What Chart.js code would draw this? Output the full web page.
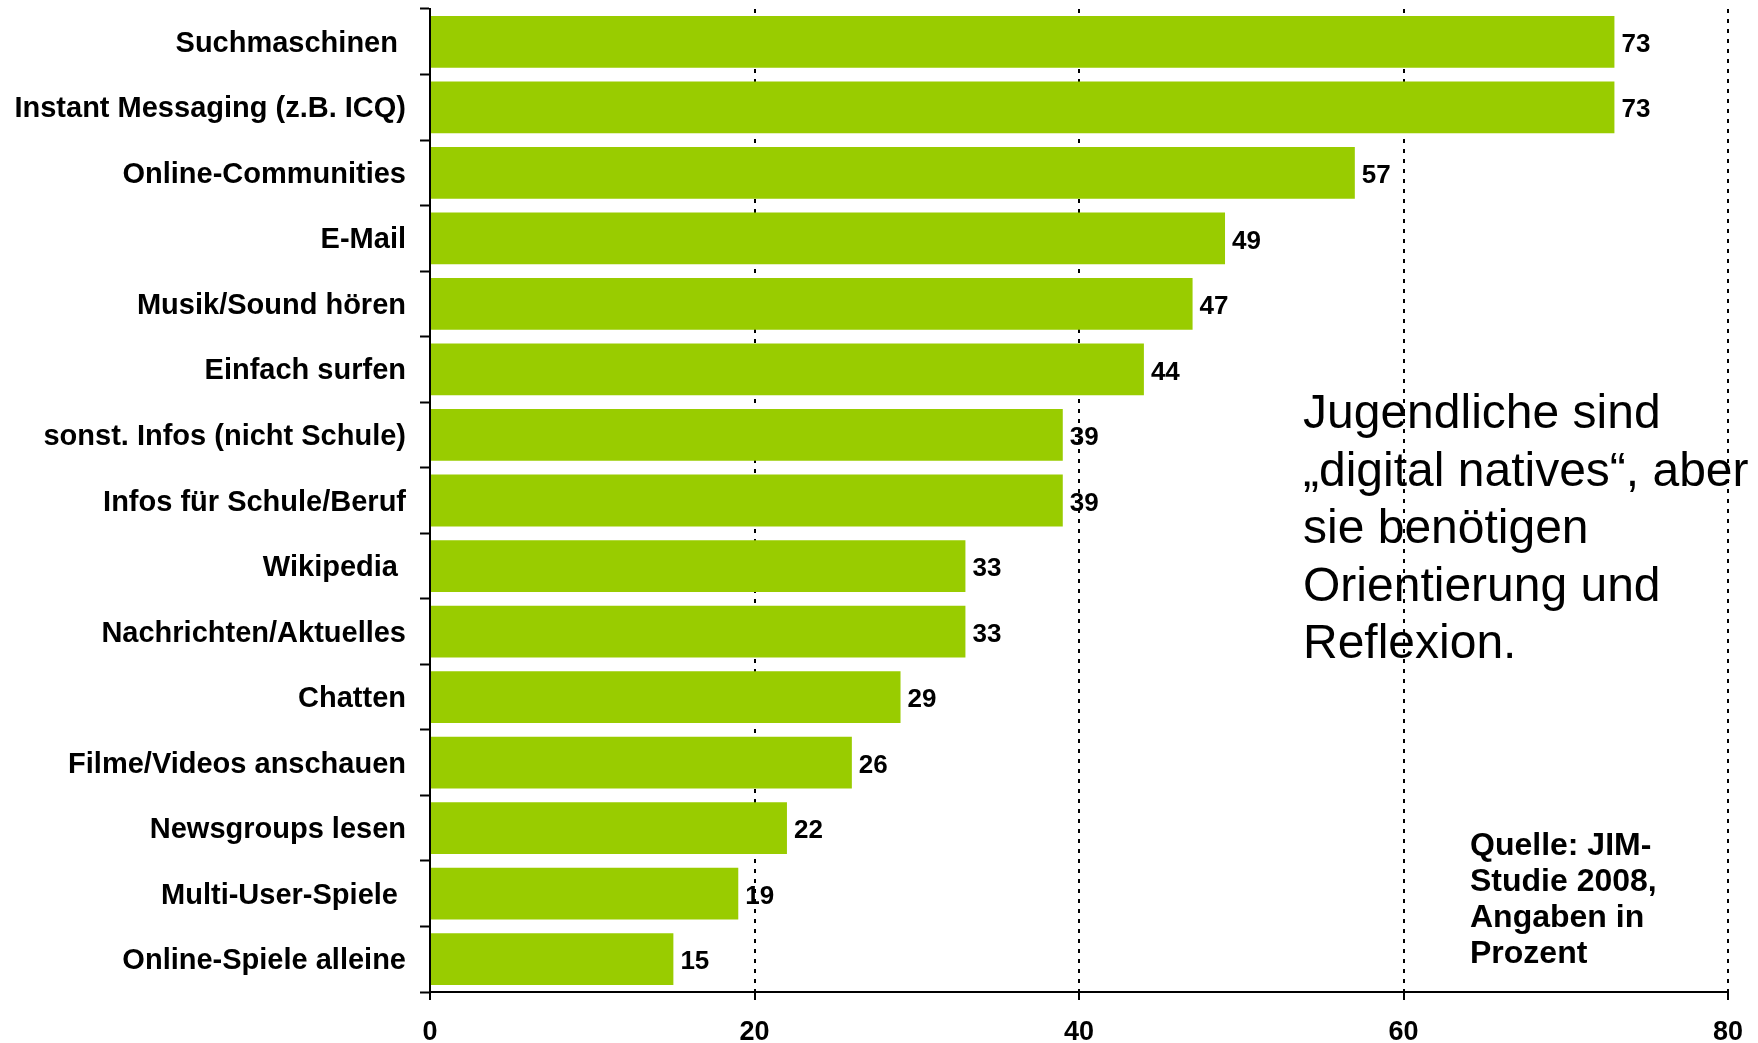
<!DOCTYPE html>
<html>
<head>
<meta charset="utf-8">
<script src="https://cdn.jsdelivr.net/npm/chart.js@4.4.1/dist/chart.umd.min.js"></script>
<style>
  html, body { margin: 0; padding: 0; background: #fff; }
  #wrap { position: relative; width: 1758px; height: 1043px; }
  .note { position: absolute; font-family: Arial, "Liberation Sans", sans-serif; color: #000; white-space: nowrap; }
  #message { left: 1303px; top: 383px; font-size: 48px; line-height: 57.5px; }
  #source { left: 1470px; top: 826px; font-size: 32px; line-height: 36px; font-weight: bold; }
</style>
</head>
<body>
<div id="wrap">
  <canvas id="chart"></canvas>
  <div class="note" id="message">Jugendliche sind<br>„digital natives“, aber<br>sie benötigen<br>Orientierung und<br>Reflexion.</div>
  <div class="note" id="source">Quelle: JIM-<br>Studie 2008,<br>Angaben in<br>Prozent</div>
</div>
<script>
const categories = [
  "Suchmaschinen ", "Instant Messaging (z.B. ICQ)", "Online-Communities", "E-Mail",
  "Musik/Sound hören", "Einfach surfen", "sonst. Infos (nicht Schule)", "Infos für Schule/Beruf",
  "Wikipedia ", "Nachrichten/Aktuelles", "Chatten", "Filme/Videos anschauen",
  "Newsgroups lesen", "Multi-User-Spiele ", "Online-Spiele alleine"
];
const shares = [73, 73, 57, 49, 47, 44, 39, 39, 33, 33, 29, 26, 22, 19, 15];
const xTicks = [0, 20, 40, 60, 80];

const font = "Arial, 'Liberation Sans', sans-serif";

// value labels to the right of each bar
const valueLabels = {
  id: "valueLabels",
  afterDatasetsDraw(chart) {
    const ctx = chart.ctx;
    const meta = chart.getDatasetMeta(0);
    ctx.save();
    ctx.font = "bold 26px " + font;
    ctx.fillStyle = "#000";
    ctx.textAlign = "left";
    ctx.textBaseline = "middle";
    meta.data.forEach((bar, i) => {
      ctx.fillText(String(shares[i]), bar.x + 7, bar.y + 3);
    });
    ctx.restore();
  }
};

new Chart(document.getElementById("chart"), {
  type: "bar",
  data: {
    labels: categories,
    datasets: [{
      data: shares,
      backgroundColor: "#99CC00",
      barPercentage: 0.79,
      categoryPercentage: 1
    }]
  },
  options: {
    indexAxis: "y",
    responsive: true,
    maintainAspectRatio: false,
    animation: false,
    layout: { padding: { top: 9, right: 30, left: 0, bottom: 0 } },
    plugins: { legend: { display: false }, tooltip: { enabled: false } },
    scales: {
      x: {
        min: 0,
        max: 80,
        afterBuildTicks: (s) => { s.ticks = xTicks.map((v) => ({ value: v })); },
        afterFit: (s) => { s.height = 51; s.paddingLeft = 0; s.paddingRight = 0; },
        border: { display: true, color: "#000", width: 2, dash: [4, 6] },
        grid: {
          color: (c) => (c.tick && c.tick.value === 0 ? "rgba(0,0,0,0)" : "#000"),
          lineWidth: 2,
          drawTicks: true,
          tickLength: 8,
          tickColor: "#000",
          tickWidth: 2,
          tickBorderDash: []
        },
        ticks: {
          color: "#000",
          padding: 16,
          maxRotation: 0,
          font: { family: font, size: 27, weight: "bold" }
        }
      },
      y: {
        afterFit: (s) => { s.width = 430; s.paddingTop = 0; s.paddingBottom = 0; },
        border: { display: true, color: "#000", width: 2 },
        grid: {
          offset: true,
          drawOnChartArea: false,
          drawTicks: true,
          tickLength: 10,
          tickColor: "#000",
          tickWidth: 2
        },
        ticks: {
          autoSkip: false,
          color: "#000",
          padding: 14,
          labelOffset: 2,
          font: { family: font, size: 29, weight: "bold" }
        }
      }
    }
  },
  plugins: [valueLabels]
});
</script>
</body>
</html>
